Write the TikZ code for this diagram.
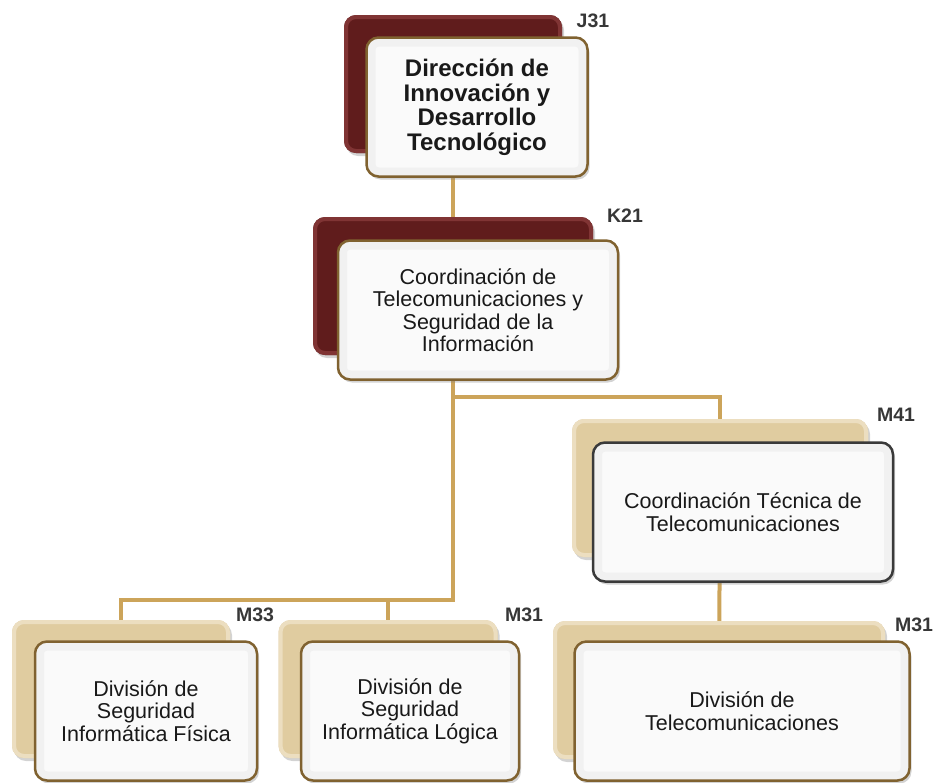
\documentclass[tikz,border=0pt]{standalone}
\usepackage{fontspec}
\setmainfont{Liberation Sans}
\usetikzlibrary{shadows,backgrounds}

\definecolor{vino}{RGB}{96,28,28}
\definecolor{vinoclaro}{RGB}{128,52,52}
\definecolor{arena}{RGB}{224,204,160}
\definecolor{arenaclara}{RGB}{236,222,192}
\definecolor{oro}{RGB}{204,164,90}
\definecolor{marco}{RGB}{128,98,48}
\definecolor{marcogris}{RGB}{58,58,58}
\definecolor{clavegris}{RGB}{55,55,55}

\tikzset{
  fondo/.style={rounded corners=12pt, minimum height=138pt, inner sep=0pt,
    drop shadow={opacity=0.35, shadow xshift=2pt, shadow yshift=-3pt}},
  fondovino/.style={fondo, minimum width=#1, fill=vino,
    path picture={\draw[vinoclaro, line width=8pt, rounded corners=12pt]
      (path picture bounding box.south west) rectangle (path picture bounding box.north east);}},
  fondoarena/.style={fondo, minimum width=#1, fill=arena,
    path picture={\draw[arenaclara, line width=8pt, rounded corners=12pt]
      (path picture bounding box.south west) rectangle (path picture bounding box.north east);}},
  frente/.style={rounded corners=12pt, minimum width=#1, minimum height=139pt,
    inner sep=0pt, align=center, fill=gray!4, draw=marco, line width=2.5pt,
    text=black!90, font=\fontsize{21.5}{22.5}\selectfont,
    drop shadow={opacity=0.35, shadow xshift=2pt, shadow yshift=-3pt},
    path picture={\draw[gray!11, line width=18pt, rounded corners=12pt]
      (path picture bounding box.south west) rectangle (path picture bounding box.north east);}},
  clave/.style={font=\bfseries\fontsize{19.5}{20}\selectfont, text=clavegris, inner sep=0pt},
  enlace/.style={oro, line width=4pt}
}

\begin{document}
\begin{tikzpicture}[x=1pt, y=-1pt]
    \useasboundingbox (0,0) rectangle (940,782);

    % Direccion
    \node[fondovino=218pt] (dirFondo) at (453,84) {};
    \node[frente=221pt, font=\bfseries\fontsize{24}{24.5}\selectfont] (dir) at (477,107)
        {Dirección de\\Innovación y\\Desarrollo\\Tecnológico};
    \node[clave] (dirClave) at (593,21) {J31};

    % Coordinacion de telecomunicaciones
    \node[fondovino=280pt] (coorFondo) at (453,286) {};
    \node[frente=280pt] (coor) at (478,310)
        {Coordinación de\\Telecomunicaciones y\\Seguridad de la\\Información};
    \node[clave] (coorClave) at (625,216) {K21};

    % Coordinacion tecnica
    \node[fondoarena=296pt] (tecFondo) at (720,488) {};
    \node[frente=300pt, draw=marcogris] (tec) at (743,512)
        {Coordinación Técnica de\\Telecomunicaciones};
    \node[clave] (tecClave) at (896,415) {M41};

    % Divisiones
    \node[fondoarena=218pt] (fisFondo) at (121,689) {};
    \node[frente=222pt] (fis) at (146,711)
        {División de\\Seguridad\\Informática Física};
    \node[clave] (fisClave) at (255,615) {M33};

    \node[fondoarena=219pt] (logFondo) at (388,689) {};
    \node[frente=218pt] (log) at (410,711)
        {División de\\Seguridad\\Informática Lógica};
    \node[clave] (logClave) at (524,615) {M31};

    \node[fondoarena=332pt] (telFondo) at (719,690) {};
    \node[frente=335pt] (tel) at (742,711)
        {División de\\Telecomunicaciones};
    \node[clave] (telClave) at (914,625) {M31};

    % Enlaces
    \coordinate (ramaA) at (0,397);
    \coordinate (ramaB) at (0,600);
    \begin{scope}[on background layer]
        \draw[enlace] (dirFondo.center) -- (coorFondo.center);
        \draw[enlace] (coorFondo.center) |- (ramaA -| tecFondo.center) -- (tecFondo.center);
        \draw[enlace] (coorFondo.center) |- (ramaB -| fisFondo.center) -- (fisFondo.center);
        \draw[enlace] (ramaB -| logFondo.center) -- (logFondo.center);
        \draw[enlace] (tecFondo.center) -- (telFondo.center);
    \end{scope}
\end{tikzpicture}
\end{document}
